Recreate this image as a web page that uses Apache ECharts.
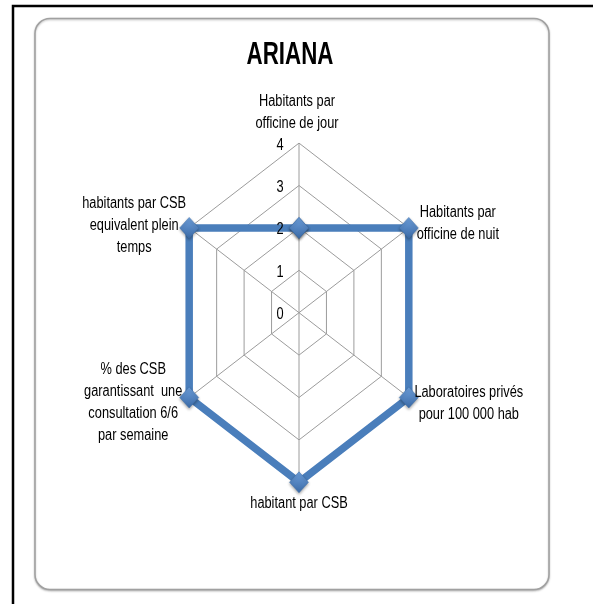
<!DOCTYPE html>
<html>
<head>
<meta charset="utf-8">
<title>ARIANA</title>
<script src="https://cdn.jsdelivr.net/npm/echarts@6/dist/echarts.min.js"></script>
<style>
  html, body { margin: 0; padding: 0; background: #fff; }
  #chart { width: 593px; height: 604px; }
</style>
</head>
<body>
<div id="chart"></div>
<script>
const title = 'ARIANA'
const indicators = [
  'Habitants par\nofficine de jour',
  'Habitants par\nofficine de nuit',
  'Laboratoires privés\npour 100 000 hab',
  'habitant par CSB',
  '% des CSB\ngarantissant  une\nconsultation 6/6\npar semaine',
  'habitants par CSB\nequivalent plein\ntemps'
]
const values = [2, 4, 4, 4, 4, 4]
const ticks = [0, 1, 2, 3, 4]
const maxValue = 4

// where each name sits from its outer vertex (px)
const nameOffsets = [[-2, -31], [49, -4], [60, 6], [0, 21], [-56, 5], [-55, -2]]

// the original is a narrow font (Calibri squeezed), so text gets scaled in x
const FONT = "'Liberation Sans', Arial, sans-serif"
const NARROW = 0.8
const GRID_COLOR = '#9c9c9c'
const BLUE = '#4a7ebb'

// point at value v on spoke i (0 = top, clockwise)
const spoke = (v, i) => {
  const a = i * 2 * Math.PI / indicators.length
  return [v * Math.sin(a), v * Math.cos(a)]
}

const series = []

// rings
ticks.filter(t => t > 0).forEach(t => {
  const pts = indicators.map((n, i) => spoke(t, i))
  pts.push(pts[0])
  series.push({
    type: 'line', data: pts, symbol: 'none', silent: true, z: 1,
    lineStyle: {color: GRID_COLOR, width: 1}
  })
})

// spokes
indicators.forEach((n, i) => {
  series.push({
    type: 'line', data: [[0, 0], spoke(maxValue, i)], symbol: 'none', silent: true, z: 1,
    lineStyle: {color: GRID_COLOR, width: 1}
  })
})

// the ARIANA polygon
const poly = values.map((v, i) => spoke(v, i))
poly.push(poly[0])
series.push({
  type: 'line',
  data: poly,
  z: 3,
  symbol: 'diamond',
  symbolSize: [19, 21],
  lineStyle: {color: BLUE, width: 7.5, join: 'miter', cap: 'butt'},
  itemStyle: {
    color: new echarts.graphic.LinearGradient(0, 0, 0, 1, [
      {offset: 0, color: '#6d9fdb'},
      {offset: 1, color: '#3b6aa6'}
    ]),
    borderColor: '#3f70ad',
    borderWidth: 0.5,
    shadowBlur: 3,
    shadowColor: 'rgba(0,0,0,0.35)',
    shadowOffsetY: 1.5
  }
})

const chart = echarts.init(document.getElementById('chart'))
chart.setOption({
  animation: false,
  backgroundColor: '#fff',
  grid: {left: 108.8, width: 380.4, top: 100.7, height: 424},
  xAxis: {type: 'value', min: -6, max: 6, show: false},
  yAxis: {type: 'value', min: -5, max: 5, show: false},
  series: series
})

const txt = (text, x, y, size, extra) => ({
  type: 'text', silent: true, z: 100, x: x, y: y, scaleX: NARROW,
  style: Object.assign({
    text: text, x: 0, y: 0, align: 'center', verticalAlign: 'middle',
    font: size + 'px ' + FONT, lineHeight: 22, fill: '#000'
  }, extra || {})
})

const graphics = [
  {
    type: 'rect', z: -10, silent: true,
    shape: {x: 13, y: 6, width: 700, height: 700},
    style: {fill: 'none', stroke: '#000', lineWidth: 2.5}
  },
  {
    type: 'rect', z: -10, silent: true,
    shape: {x: 35, y: 18.5, width: 514, height: 571, r: 15},
    style: {
      fill: '#fff', stroke: '#a0a0a0', lineWidth: 1.5,
      shadowBlur: 2, shadowColor: 'rgba(0,0,0,0.25)', shadowOffsetY: 1
    }
  }
]

// title
const t = txt(title, 290, 55, 31, {font: 'bold 31px ' + FONT})
t.scaleX = 0.72
graphics.push(t)

// tick labels next to the top spoke
ticks.forEach(v => {
  const p = chart.convertToPixel({gridIndex: 0}, [0, v])
  graphics.push(txt(String(v), p[0] - 19, p[1] + 2, 16))
})

// indicator names round the outer ring
indicators.forEach((n, i) => {
  const p = chart.convertToPixel({gridIndex: 0}, spoke(maxValue, i))
  graphics.push(txt(n, p[0] + nameOffsets[i][0], p[1] + nameOffsets[i][1], 16))
})

chart.setOption({graphic: graphics})
</script>
</body>
</html>
